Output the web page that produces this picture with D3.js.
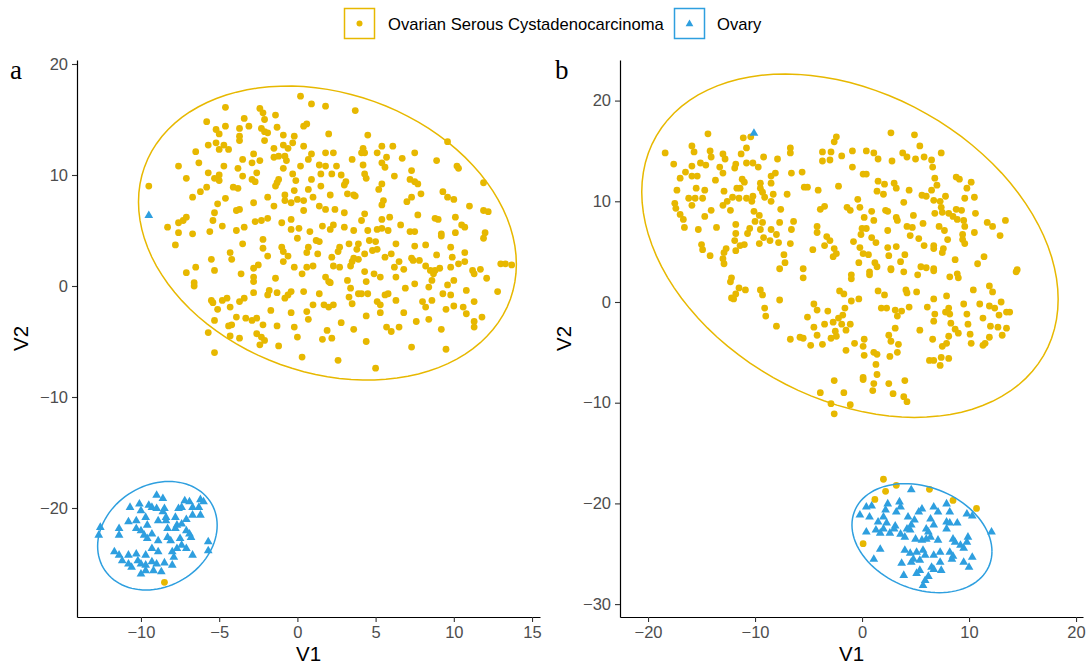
<!DOCTYPE html>
<html><head><meta charset="utf-8">
<script src="https://cdn.jsdelivr.net/npm/d3@7"></script>
<style>
html,body{margin:0;padding:0;background:#fff;}
svg{display:block;font-family:"Liberation Sans",Arial,Helvetica,sans-serif;}
</style></head>
<body>
<svg id="chart" width="1089" height="664"></svg>
<script>
// ---------- DATA (t-SNE coordinates) ----------
const groups = ["Ovarian Serous Cystadenocarcinoma", "Ovary"];
const groupColors = ["#E7B800", "#2E9FDF"];
const panelLabels = ["a", "b"];
const xTicksA = [-10, -5, 0, 5, 10, 15];
const yTicksA = [-20, -10, 0, 10, 20];
const xTicksB = [-20, -10, 0, 10, 20];
const yTicksB = [-30, -20, -10, 0, 10, 20];

const tsneA_cancer = [
[0.2,17.1],[0.9,16.4],[1.8,16.2],[-4.6,16.1],[-2.4,16.0],[-2.2,15.6],[-1.4,15.4],[-2.1,15.0],[-3.4,15.1],[-5.8,14.8],[-4.6,14.4],[-3.7,14.2],[-3.1,14.4],[-2.3,14.2],[-2.1,13.9],[-1.3,14.3],[-5.2,14.1],[-5.0,13.7],[-1.9,13.8],[-0.9,13.6],[-0.2,13.5],[0.6,14.6],[0.4,14.4],[-3.7,13.5],[-3.7,13.1],[-2.1,13.1],[2.0,13.7],[-5.7,12.7],[-5.2,12.9],[-4.7,12.7],[-4.4,12.3],[-5.0,12.3],[-6.5,12.1],[-1.5,12.4],[-0.9,12.7],[-0.3,12.9],[0.4,12.6],[-0.6,12.4],[-3.5,11.4],[-2.8,11.9],[-1.5,11.6],[-1.2,11.7],[-0.8,11.7],[-0.7,11.3],[0.9,11.9],[0.7,11.4],[1.8,12.0],[-7.6,10.8],[-6.3,11.1],[-4.7,10.8],[-3.8,10.6],[-2.9,11.1],[-2.4,11.3],[0.2,10.8],[1.4,10.9],[1.8,10.8],[-0.9,10.6],[-7.1,9.7],[-5.7,10.2],[-5.3,9.7],[-5.0,10.0],[-5.0,9.5],[-3.5,9.9],[-2.9,9.6],[-2.7,9.4],[-2.6,10.2],[-0.3,10.1],[-0.1,9.5],[1.5,10.1],[0.9,9.6],[-9.5,9.0],[-5.8,8.9],[-6.2,8.5],[-6.7,8.0],[-4.1,8.9],[-3.8,8.8],[-1.3,9.3],[-1.4,9.0],[-1.2,9.6],[-0.2,8.6],[-1.9,8.0],[-0.8,8.2],[-0.8,7.7],[-0.4,7.5],[0.0,7.8],[0.4,7.7],[1.0,8.0],[0.7,8.7],[1.5,9.0],[-5.1,7.4],[-4.6,7.9],[-2.8,7.5],[-1.5,7.2],[2.1,8.2],[-5.3,6.6],[-5.4,5.9],[-7.1,6.2],[-7.3,5.9],[-7.6,5.7],[-8.3,5.3],[-3.9,6.8],[-3.7,6.9],[-2.7,5.8],[-2.3,5.9],[-1.9,6.1],[-1.0,5.7],[-0.4,6.0],[0.4,6.8],[1.4,7.2],[1.8,6.9],[-0.4,5.1],[0.1,5.2],[0.8,4.9],[1.6,5.4],[2.1,5.1],[-4.8,5.4],[-3.9,5.0],[-3.4,5.3],[-7.6,4.8],[-6.7,4.7],[-5.6,4.9],
[3.7,15.8],[4.5,13.6],[9.6,13.0],[5.4,12.6],[6.1,12.6],[4.2,12.4],[4.1,12.0],[4.3,12.0],[5.1,12.0],[2.3,12.0],[3.5,11.4],[5.7,11.6],[5.4,11.1],[6.7,11.5],[7.5,12.0],[8.9,11.3],[10.2,10.8],[10.3,10.6],[2.5,10.8],[4.2,10.9],[5.6,10.7],[2.2,10.1],[2.8,10.0],[4.3,10.1],[4.4,9.7],[7.3,10.4],[6.2,9.9],[7.2,9.6],[7.5,9.4],[7.7,9.2],[3.1,9.4],[3.0,9.1],[5.4,9.2],[11.9,9.3],[5.2,8.7],[3.2,8.3],[3.6,8.2],[3.7,8.1],[9.3,8.5],[9.6,8.0],[10.0,7.8],[7.9,8.3],[7.3,8.0],[7.0,7.6],[5.5,7.7],[5.4,7.3],[11.0,7.2],[11.9,6.8],[12.2,6.7],[2.4,6.9],[3.0,6.6],[4.3,6.5],[7.7,6.4],[5.9,6.2],[5.4,6.0],[4.1,5.9],[8.8,6.1],[9.0,6.0],[10.1,6.2],[6.6,5.5],[10.5,5.5],[10.7,5.3],[2.3,5.5],[3.0,5.3],[3.6,5.0],[4.5,5.0],[5.1,5.1],[5.4,5.2],[5.8,5.0],[7.2,4.9],[7.5,4.9],[9.2,4.7],[10.1,4.8],[12.0,4.8],
[-7.8,3.7],[-2.2,4.2],[-2.2,3.4],[-3.5,3.8],[-4.3,3.0],[-4.2,2.4],[-5.5,2.4],[-1.9,2.7],[-1.0,3.5],[-0.9,3.1],[-0.6,2.7],[-0.9,2.2],[-0.2,1.7],[0.0,4.3],[1.2,4.1],[1.4,4.0],[0.7,3.5],[0.6,3.0],[1.3,2.9],[1.0,1.8],[0.6,1.7],[0.3,1.1],[1.8,0.8],[2.0,0.4],[-6.5,1.7],[-7.1,1.2],[-5.3,1.4],[-3.6,1.1],[-2.8,1.6],[-2.5,1.9],[-2.8,0.8],[-2.8,0.4],[-1.4,0.7],[-6.6,0.3],[-6.6,0.0],[-5.5,-1.3],[-5.4,-1.5],[-4.5,-1.1],[-4.8,-1.3],[-4.3,-1.9],[-5.1,-2.1],[-3.7,-1.4],[-3.4,-1.1],[-2.8,-0.6],[-1.9,-0.8],[-1.8,-0.4],[-1.3,-0.6],[-0.8,-1.1],[-0.6,-0.8],[-0.4,-0.5],[-1.7,-2.2],[0.4,-0.5],[1.4,-0.7],[1.0,-1.7],[1.7,-1.7],[2.0,-1.9],[0.6,-2.3],[-0.4,-2.4],[0.7,-3.0],[-5.3,-3.1],[-3.9,-2.8],[-3.3,-2.9],[-2.9,-3.1],[-2.6,-2.9],[-4.4,-3.6],[-4.2,-3.5],[-5.7,-4.2],[-2.2,-3.5],[-1.3,-3.6],[-0.2,-3.7],[1.9,-4.0],[-4.3,-4.5],[-3.7,-4.7],[-2.6,-4.3],[-2.3,-4.6],[-2.1,-4.9],[-2.4,-5.3],[0.0,-4.6],[1.6,-4.8],[-1.2,-5.4],[-5.3,-6.0],[0.3,-6.4],
[7.5,3.6],[9.2,4.5],[11.9,4.3],[3.3,3.8],[3.9,3.8],[4.6,4.1],[5.0,4.0],[2.7,3.5],[2.6,3.1],[3.8,3.3],[3.6,2.5],[3.9,2.4],[4.3,2.9],[4.8,3.2],[5.1,3.3],[5.6,2.6],[6.0,2.9],[6.3,3.8],[6.5,2.2],[6.2,1.7],[6.3,0.8],[6.8,1.5],[7.3,2.5],[7.4,2.3],[7.8,2.3],[8.2,3.7],[8.9,2.8],[8.2,1.8],[8.5,1.4],[8.8,1.4],[8.7,1.1],[9.1,1.6],[9.8,3.5],[9.9,2.6],[9.8,1.7],[10.3,2.0],[10.7,3.0],[10.7,2.2],[11.2,1.4],[11.3,1.1],[11.7,1.5],[12.1,0.7],[13.0,2.0],[13.3,2.0],[13.7,1.9],[12.8,-0.5],[2.2,2.6],[2.3,1.8],[2.7,1.7],[3.4,1.8],[3.5,2.2],[2.1,0.3],[3.2,0.5],[4.3,1.3],[4.9,1.1],[5.3,0.8],[3.4,-0.2],[3.9,-0.7],[4.1,-0.7],[4.5,-0.7],[4.4,0.4],[6.9,-0.2],[7.5,0.2],[5.6,-0.8],[5.8,-0.7],[6.3,-1.3],[5.1,-1.4],[5.3,-1.7],[5.3,-2.4],[3.3,-1.0],[3.5,-1.6],[2.3,-1.7],[4.4,-2.7],[6.8,-2.4],[8.0,-1.4],[8.2,-1.9],[8.6,-1.3],[8.4,-0.1],[8.6,0.5],[9.3,-0.7],[9.8,-0.8],[9.6,0.1],[10.0,0.5],[10.8,-0.4],[9.5,-2.1],[10.0,-1.8],[10.6,-1.9],[10.8,-2.5],[11.3,-1.4],[11.8,-2.8],[11.3,-3.2],[11.3,-3.7],[7.6,-3.2],[8.4,-3.0],[2.8,-3.3],[2.2,-4.7],[3.6,-3.9],[5.7,-3.7],[6.0,-4.1],[6.5,-3.7],[4.4,-5.0],[9.2,-3.9],[7.3,-5.5],[9.5,-5.7],[2.6,-6.7],[5.0,-7.4],
[-8.5,-26.7]
];

const tsneA_ovary = [
[-9.5,6.4],
[-9.0,-18.8],[-8.6,-19.1],[-7.2,-19.3],[-6.9,-19.4],[-6.2,-19.2],[-6.0,-19.4],[-7.4,-19.9],[-6.7,-19.9],[-6.3,-19.9],[-9.3,-19.9],[-9.0,-20.0],[-8.5,-20.0],[-7.6,-20.0],[-10.7,-19.9],[-10.1,-19.6],[-10.0,-20.2],[-9.5,-19.7],[-8.6,-20.3],[-9.7,-20.8],[-8.4,-20.8],[-7.8,-20.8],[-6.7,-20.6],[-6.2,-20.6],[-10.8,-21.2],[-10.3,-21.1],[-9.6,-21.5],[-8.9,-21.1],[-8.4,-21.1],[-7.7,-21.5],[-7.4,-21.4],[-7.1,-21.0],[-12.6,-21.7],[-12.7,-22.4],[-11.4,-21.8],[-11.4,-22.4],[-10.3,-21.8],[-10.0,-22.0],[-9.8,-22.4],[-9.3,-22.3],[-8.3,-21.8],[-7.8,-21.8],[-7.1,-22.0],[-6.9,-22.3],[-8.3,-22.6],[-8.1,-22.9],[-8.9,-22.9],[-9.6,-22.7],[-7.5,-22.7],[-6.8,-22.6],[-5.7,-23.0],[-11.7,-23.9],[-11.4,-24.2],[-10.8,-24.2],[-10.3,-24.1],[-9.7,-24.2],[-9.3,-23.6],[-8.9,-23.9],[-8.0,-23.9],[-7.7,-23.6],[-7.4,-23.3],[-7.1,-23.6],[-6.7,-24.2],[-5.7,-23.8],[-7.9,-24.4],[-10.2,-24.7],[-11.2,-24.7],[-10.8,-25.0],[-10.6,-25.3],[-10.0,-25.0],[-9.7,-25.1],[-9.3,-24.8],[-9.0,-25.0],[-8.5,-24.9],[-8.0,-25.1],[-9.7,-25.6],[-9.2,-25.6],[-10.0,-25.9],[-8.7,-25.7]
];

const tsneB_cancer = [
[-14.4,16.7],[-11.1,16.3],[-10.4,16.4],[-15.9,15.5],[-15.7,14.9],[-18.4,14.8],[-14.2,15.0],[-14.1,14.4],[-13.0,14.7],[-12.8,14.2],[-10.8,15.3],[-11.3,14.7],[-9.2,14.4],[-7.9,14.2],[-6.7,15.3],[-6.7,14.8],[-17.6,13.7],[-15.9,13.5],[-15.1,13.8],[-14.6,13.6],[-13.3,13.4],[-13.0,12.8],[-11.9,13.3],[-11.8,13.7],[-10.8,13.8],[-10.2,13.8],[-9.7,13.4],[-16.5,12.9],[-15.9,12.5],[-15.4,12.5],[-17.0,12.3],[-13.7,12.1],[-11.2,12.2],[-11.0,11.9],[-11.4,11.3],[-8.5,12.5],[-8.1,12.8],[-9.5,11.8],[-8.5,11.8],[-6.6,12.8],[-5.6,12.9],[-17.3,11.1],[-15.5,11.3],[-14.7,11.1],[-12.9,11.0],[-11.7,11.3],[-9.5,11.3],[-9.3,10.9],[-8.3,10.7],[-7.0,10.7],[-5.4,11.4],[-5.1,11.4],[-4.1,11.1],[-16.2,10.3],[-15.6,10.3],[-14.9,10.3],[-12.1,10.4],[-11.5,10.3],[-10.8,10.3],[-10.2,10.5],[-10.3,10.0],[-9.1,10.4],[-8.5,10.0],[-17.5,9.8],[-17.4,9.3],[-15.9,9.6],[-13.0,9.6],[-12.6,10.0],[-12.3,9.1],[-17.0,8.7],[-16.7,8.2],[-14.7,8.5],[-14.1,9.1],[-10.1,9.0],[-9.6,8.6],[-10.0,8.0],[-9.3,7.9],[-7.6,9.2],[-7.7,7.9],[-6.4,8.0],[-3.9,9.2],[-3.5,9.5],[-16.6,7.4],[-15.3,7.2],[-13.6,7.4],[-11.8,7.7],[-11.8,6.8],[-10.5,7.3],[-10.7,6.8],[-9.5,7.2],[-8.5,7.2],[-8.0,6.7],[-6.6,7.2],[-4.2,7.5],[-4.2,6.9],[-3.3,6.5],[-3.0,6.1],[-11.9,6.1],[-11.4,5.6],[-11.0,5.7],[-9.6,5.8],[-9.2,6.4],[-8.6,6.1],[-7.8,5.9],[-6.7,5.8],[-15.0,5.7],[-14.9,5.2],[-12.7,5.3],[-12.9,4.9],[-11.8,5.1],[-14.2,4.6],[-13.0,4.3],[-12.9,3.8],[-7.3,4.7],[-7.2,3.9],[-7.7,3.3],[-5.5,3.3],[-4.6,5.2],[-3.5,5.6],[-2.6,5.3],[-2.4,4.8],[-2.7,4.5],[-2.4,16.4],[-2.6,15.9],[-3.7,14.9],[-2.9,14.9],[-3.7,14.0],[-3.0,14.1],[-2.2,11.5],
[2.7,16.8],[4.9,16.6],[5.4,15.5],[7.4,14.8],[6.5,14.1],[6.6,13.4],[5.8,14.4],[5.0,14.2],[3.8,14.8],[4.2,14.4],[2.8,14.0],[0.4,15.0],[1.1,14.8],[1.5,14.2],[-0.9,15.0],[-1.9,14.5],[-0.9,13.4],[0.1,12.7],[0.4,12.7],[1.5,12.0],[2.1,11.7],[3.0,11.8],[3.2,11.3],[1.4,11.0],[2.0,10.7],[4.4,11.1],[6.8,12.3],[7.0,11.6],[6.5,11.1],[8.8,12.4],[9.1,12.2],[10.2,11.9],[9.8,11.3],[5.6,10.6],[6.0,10.5],[7.8,10.5],[9.6,10.3],[10.5,10.4],[-0.4,10.2],[-1.4,9.4],[-1.1,9.1],[-0.2,9.4],[3.9,9.9],[6.7,10.1],[7.3,10.0],[7.4,9.4],[7.5,8.9],[2.2,9.1],[2.4,9.0],[0.9,9.0],[0.2,8.4],[1.1,8.1],[3.2,8.4],[3.3,8.1],[4.8,8.6],[6.8,8.8],[8.1,8.8],[8.8,9.2],[9.3,9.1],[8.5,8.5],[8.9,8.2],[9.5,8.1],[9.6,7.5],[10.6,8.8],[11.7,7.9],[12.2,7.5],[13.4,8.1],[12.9,6.6],[10.5,6.9],[5.7,7.8],[4.7,7.4],[4.2,7.5],[2.4,7.1],[0.0,7.3],[0.4,7.3],[-0.1,6.7],[0.9,6.4],[1.3,5.9],[-0.8,6.0],[-0.2,5.4],[4.5,6.6],[5.3,6.3],[7.2,7.5],[7.7,7.1],[8.0,6.2],[9.4,6.7],[9.4,6.2],[9.6,5.8],[5.8,5.6],[6.7,5.6],[6.7,5.3],[7.6,5.3],[7.5,4.9],[2.4,5.4],[3.2,5.5],[2.5,4.6],[4.0,4.7],[3.6,4.0],[0.1,4.8],[0.6,4.7],[-0.3,3.9],[1.2,3.9],[1.4,3.5],[2.7,3.3],[5.5,3.5],[6.0,3.4],[6.7,3.3],[8.7,4.2],[10.8,3.8],[11.4,4.5],[14.5,3.2],
[-5.5,2.4],[-12.2,2.4],[-12.3,2.0],[-11.5,1.4],[-10.9,1.2],[-11.8,0.8],[-12.2,0.4],[-12.0,0.3],[-9.5,1.2],[-9.3,0.7],[-7.7,0.2],[-9.1,-0.6],[-9.0,-1.4],[-8.0,-2.4],[-1.0,2.7],[-1.0,2.3],[0.7,3.0],[0.7,2.7],[2.7,3.2],[3.9,3.0],[5.2,2.7],[6.7,3.1],[8.2,2.5],[8.9,2.8],[9.0,2.4],[14.4,3.0],[-2.1,1.1],[-1.7,0.8],[-1.0,0.1],[-0.3,0.3],[1.5,1.1],[2.1,0.7],[4.1,1.2],[4.2,0.9],[5.1,1.0],[10.4,1.2],[11.9,1.6],[12.2,1.0],[7.9,0.6],[6.7,0.3],[6.1,-0.5],[-4.5,-0.2],[-4.2,-0.8],[-3.2,-0.9],[-5.1,-1.5],[-4.5,-2.5],[-4.2,-3.3],[-3.5,-2.2],[-2.7,-2.0],[-2.2,-1.6],[-1.8,-1.3],[-1.6,-0.6],[-1.9,-2.2],[-1.1,-2.2],[-1.5,-2.8],[-2.5,-2.9],[-2.4,-3.4],[-2.9,-3.6],[-3.7,-4.2],[-4.8,-4.3],[-5.8,-3.5],[-5.5,-3.6],[-6.7,-3.7],[-1.5,-4.8],[-0.7,-4.1],[0.2,-3.7],[0.1,-4.4],[0.2,-5.3],[1.1,-5.0],[1.4,-5.2],[1.3,-6.2],[1.8,-0.6],[2.3,-0.6],[3.1,-0.8],[3.3,-1.4],[3.7,-0.9],[4.4,-0.5],[3.1,-2.6],[2.5,-3.3],[2.7,-3.9],[3.4,-4.2],[3.3,-5.0],[2.6,-5.4],[5.4,-2.8],[6.6,-3.7],[6.8,-1.2],[6.7,-1.9],[7.8,-1.0],[8.2,-1.2],[8.1,-0.6],[8.3,-2.1],[8.7,-2.7],[9.0,-3.1],[8.1,-3.4],[7.9,-4.1],[7.5,-4.4],[9.5,-0.2],[9.8,-1.2],[9.9,-2.2],[10.1,-3.2],[10.2,-4.1],[11.0,-0.2],[11.3,-1.6],[11.9,-0.4],[12.4,-0.6],[13.0,0.0],[12.8,-1.3],[13.5,-1.0],[13.8,-1.0],[12.0,-2.4],[12.7,-2.5],[13.5,-2.6],[13.1,-3.3],[11.9,-3.5],[11.5,-4.1],[11.3,-4.3],[6.3,-5.8],[6.7,-5.8],[7.4,-5.5],[7.3,-6.3],[8.1,-5.6],[0.1,-7.5],[0.1,-7.7],[1.4,-7.2],[1.1,-8.1],[1.0,-8.8],[2.5,-8.1],[4.0,-7.8],[2.9,-9.1],[3.9,-9.4],[4.2,-9.9],[-2.6,-7.8],[-1.7,-9.0],[-3.9,-9.0],[-2.9,-10.1],[-1.1,-10.2],[-2.6,-11.1],
[2.0,-17.6],[3.2,-18.2],[2.2,-18.8],[6.3,-18.6],[1.2,-19.6],[8.5,-19.7],[10.7,-20.5],[0.1,-24.0]
];

const tsneB_ovary = [
[-10.1,16.8],
[4.6,-18.6],[0.4,-20.3],[0.9,-20.2],[-0.2,-21.1],[0.7,-21.3],[2.4,-20.0],[3.5,-19.8],[3.6,-20.3],[3.2,-20.8],[2.2,-20.6],[2.0,-21.3],[1.5,-21.8],[2.3,-21.9],[2.0,-22.5],[3.1,-22.2],[3.0,-22.5],[2.6,-22.9],[0.4,-22.8],[1.3,-22.6],[1.7,-22.9],[5.6,-20.5],[5.3,-20.8],[4.3,-21.3],[4.9,-21.6],[4.6,-22.1],[4.2,-22.5],[4.5,-22.6],[3.6,-23.0],[4.0,-23.3],[6.7,-20.3],[7.1,-20.8],[7.9,-20.0],[8.2,-20.8],[6.4,-21.5],[6.7,-22.1],[6.0,-22.5],[6.2,-22.8],[7.9,-21.8],[8.2,-21.9],[8.9,-21.9],[7.9,-22.5],[9.8,-21.0],[10.3,-21.2],[12.1,-22.8],[9.9,-23.3],[9.8,-23.8],[9.2,-24.1],[9.5,-24.4],[8.5,-23.5],[8.7,-23.8],[5.0,-23.5],[5.6,-23.6],[6.0,-23.5],[6.4,-23.3],[7.1,-23.6],[1.7,-24.5],[1.1,-25.5],[4.0,-24.6],[4.5,-24.9],[5.1,-24.8],[5.7,-24.6],[5.9,-25.1],[6.7,-25.1],[7.3,-24.8],[8.2,-24.8],[8.5,-25.2],[8.4,-25.5],[10.3,-25.3],[9.5,-25.8],[10.0,-26.3],[3.7,-25.9],[4.8,-25.5],[4.6,-25.8],[5.4,-25.6],[6.5,-26.3],[7.3,-25.8],[7.4,-26.6],[3.9,-27.1],[5.1,-26.9],[5.4,-26.6],[6.2,-27.2],[5.9,-27.6],[5.7,-28.1],[6.7,-26.5]
];

// 95% ellipse parameters (centre and shape matrix, data units)
const ellipseA_cancer = {cx: 1.92, cy: 4.77, sxx: 145.9, syy: 175.4, sxy: -33.9};
const ellipseA_ovary  = {cx: -8.95, cy: -22.5, sxx: 14.6, syy: 23.9, sxy: 3.6};
const ellipseB_cancer = {cx: -1.13, cy: 5.59, sxx: 378.6, syy: 290.7, sxy: -103.6};
const ellipseB_ovary  = {cx: 5.6, cy: -23.45, sxx: 42.8, syy: 29.3, sxy: -8.6};

// ---------- LAYOUT ----------
const panels = [
  {label: panelLabels[0], series: [tsneA_cancer, tsneA_ovary], ellipses: [ellipseA_cancer, ellipseA_ovary],
   xDomain: [-14.09, 15.51], yDomain: [-29.82, 20.36], xTicks: xTicksA, yTicks: yTicksA,
   left: 77, right: 540, top: 60, bottom: 617, tagX: 10},
  {label: panelLabels[1], series: [tsneB_cancer, tsneB_ovary], ellipses: [ellipseB_cancer, ellipseB_ovary],
   xDomain: [-22.62, 20.65], yDomain: [-31.28, 24.03], xTicks: xTicksB, yTicks: yTicksB,
   left: 620, right: 1083, top: 60, bottom: 617, tagX: 555}
];

const svg = d3.select("#chart");
const tickFont = 16.5, titleFont = 20.5;

function ellipsePts(e) {
  const a = Math.sqrt(e.sxx), b = e.sxy / a, c = Math.sqrt(e.syy - b * b);
  return d3.range(0, 101).map(i => {
    const t = 2 * Math.PI * i / 100;
    return [e.cx + a * Math.cos(t), e.cy + b * Math.cos(t) + c * Math.sin(t)];
  });
}

const triangle = d3.symbol().type(d3.symbolTriangle).size(33);

panels.forEach(p => {
  const x = d3.scaleLinear().domain(p.xDomain).range([p.left, p.right]);
  const y = d3.scaleLinear().domain(p.yDomain).range([p.bottom, p.top]);
  const g = svg.append("g");

  // points
  p.series.forEach((s, gi) => {
    if (gi === 0) {
      g.append("g").selectAll("circle").data(s).join("circle")
        .attr("cx", d => x(d[0])).attr("cy", d => y(d[1])).attr("r", 3.4)
        .attr("fill", groupColors[0]);
    } else {
      g.append("g").selectAll("path").data(s).join("path")
        .attr("d", triangle)
        .attr("transform", d => `translate(${x(d[0])},${y(d[1]) + 0.5})`)
        .attr("fill", groupColors[1]);
    }
  });

  // ellipses
  const line = d3.line().x(d => x(d[0])).y(d => y(d[1]));
  p.ellipses.forEach((e, gi) => {
    g.append("path").attr("d", line(ellipsePts(e)))
      .attr("fill", "none").attr("stroke", groupColors[gi]).attr("stroke-width", 1.5);
  });

  // axes
  const ax = g.append("g").attr("transform", `translate(0,${p.bottom})`)
    .call(d3.axisBottom(x).tickValues(p.xTicks).tickSize(5).tickSizeOuter(0).tickPadding(4));
  const ay = g.append("g").attr("transform", `translate(${p.left},0)`)
    .call(d3.axisLeft(y).tickValues(p.yTicks).tickSize(5).tickSizeOuter(0).tickPadding(4));
  [ax, ay].forEach(a => {
    a.select(".domain").attr("stroke", "#000").attr("stroke-width", 1.2);
    a.selectAll(".tick line").attr("stroke", "#333").attr("stroke-width", 1.1);
    a.selectAll(".tick text").attr("fill", "#4D4D4D").style("font-size", tickFont + "px")
      .style("font-family", "'Liberation Sans', Arial, sans-serif");
  });

  // axis titles
  g.append("text").attr("x", (p.left + p.right) / 2).attr("y", 661)
    .attr("text-anchor", "middle").style("font-size", titleFont + "px").text("V1");
  g.append("text").attr("transform", `translate(${p.left - 49},${(p.top + p.bottom) / 2}) rotate(-90)`)
    .attr("text-anchor", "middle").style("font-size", titleFont + "px").text("V2");

  // panel tag
  g.append("text").attr("x", p.tagX).attr("y", 79)
    .style("font-family", "'Liberation Serif', 'DejaVu Serif', serif")
    .style("font-size", "27px").style("font-weight", "normal").text(p.label);
});

// ---------- LEGEND ----------
const legend = svg.append("g");
const legendItems = [{x: 344, textX: 388}, {x: 674, textX: 717}];
groups.forEach((name, i) => {
  const it = legendItems[i];
  legend.append("rect").attr("x", it.x + 0.5).attr("y", 8.5).attr("width", 30).attr("height", 30)
    .attr("fill", "#fff").attr("stroke", groupColors[i]).attr("stroke-width", 1.5);
  if (i === 0) {
    legend.append("circle").attr("cx", it.x + 15.5).attr("cy", 23.5).attr("r", 3).attr("fill", groupColors[i]);
  } else {
    legend.append("path").attr("d", d3.symbol().type(d3.symbolTriangle).size(26)())
      .attr("transform", `translate(${it.x + 15.5},${24})`).attr("fill", groupColors[i]);
  }
  legend.append("text").attr("x", it.textX).attr("y", 29.5)
    .style("font-size", "16.6px").attr("fill", "#000").text(name);
});
</script>
</body></html>
